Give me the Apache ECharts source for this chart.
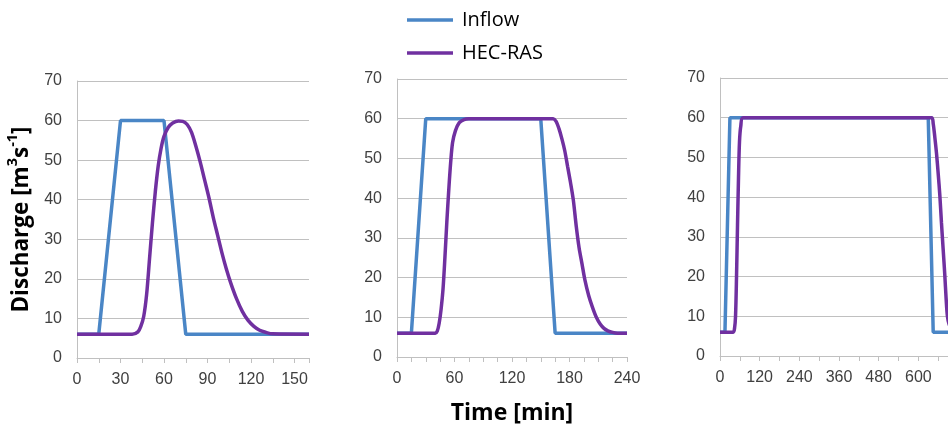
<!DOCTYPE html>
<html>
<head>
<meta charset="utf-8">
<script src="https://cdn.jsdelivr.net/npm/echarts@6/dist/echarts.min.js"></script>
<style>html,body{margin:0;padding:0;background:#fff}#c{width:948px;height:427px}</style>
</head>
<body>
<div id="c"></div>
<script>
// ---- Data (time in minutes, discharge in m3/s) ----
const seriesNames = ['Inflow', 'HEC-RAS'];
const yTicks = [0, 10, 20, 30, 40, 50, 60, 70];
const xMax = [160, 240, 720];
const xLabelStep = [30, 60, 120];
const xTickStep = [15, 15, 60];

const inflow1 = [[0,6],[15,6],[30,60],[60,60],[75,6],[160,6]];
const hecras1 = [[0,6],[38,6],[42,6.6],[44,8],[46,10.5],[48,16],[50,25],[52,34],[54,42],[56,48.5],[58,53],[60,56],[63,58.3],[66,59.4],[70,59.9],[73,59.8],[76,59],[79,57],[82,53.5],[85,49.5],[88,45],[91,40.5],[94,35.5],[97,31],[100,26.5],[103,22.5],[106,19],[110,15],[114,11.8],[118,9.5],[122,8],[126,7],[130,6.5],[135,6.1],[160,6]];

const inflow2 = [[0,6],[15,6],[30,60],[150,60],[165,6],[240,6]];
const hecras2 = [[0,6],[40,6],[42,6.5],[44,8.5],[46,12],[48,17],[50,25],[52,34],[54,42],[56,49],[58,54],[61,57],[65,59],[70,59.8],[75,60],[163,60],[166,59.3],[169,57.5],[172,55],[175,52],[178,48],[181,44],[184,39.5],[187,33],[190,27.5],[193,23.5],[196,19.5],[200,15.5],[204,12.5],[208,10],[212,8.3],[216,7.2],[220,6.6],[225,6.2],[230,6],[240,6]];

const inflow3 = [[0,6],[15,6],[30,60],[630,60],[645,6],[720,6]];
const hecras3 = [[0,6],[40,6],[44,7],[47,10],[50,20],[53,33],[56,45],[59,54],[63,58],[70,60],[640,60],[645,58.5],[650,55],[655,51],[660,46],[665,40.5],[670,33.5],[675,27],[680,20.5],[684,14.5],[688,10],[693,8],[700,7],[710,6.3],[720,6]];

const inflowSets = [inflow1, inflow2, inflow3];
const hecrasSets = [hecras1, hecras2, hecras3];

// ---- Styles ----
const BLUE = '#4a86c6';
const PURPLE = '#7030a0';
const GRID = '#c0c0c0';
const TXT = '#404040';
const TITLE_FONT = 'Open Sans';

const grids = [
  {left: 77, top: 81, width: 232, height: 277, outerBoundsMode: 'none', containLabel: false},
  {left: 397, top: 79, width: 230, height: 278, outerBoundsMode: 'none', containLabel: false},
  {left: 720, top: 78, width: 238, height: 278, outerBoundsMode: 'none', containLabel: false}
];

const xAxes = grids.map((g, i) => ({
  type: 'value', gridIndex: i, min: 0, max: xMax[i], interval: xTickStep[i],
  axisLine: {show: true, lineStyle: {color: GRID, width: 1}},
  axisTick: {show: true, length: 5, lineStyle: {color: GRID}},
  splitLine: {show: false},
  axisLabel: {
    color: TXT, fontFamily: 'Liberation Sans, Arial', fontSize: 16, margin: 14,
    formatter: v => (v % xLabelStep[i] === 0 && (v < 700)) ? String(v) : ''
  },
  name: i === 1 ? 'Time [min]' : '',
  nameLocation: 'middle', nameGap: 45,
  nameTextStyle: {fontFamily: TITLE_FONT, fontWeight: 'bold', fontSize: 23, color: '#000'}
}));

const yAxes = grids.map((g, i) => ({
  type: 'value', gridIndex: i, min: yTicks[0], max: yTicks[yTicks.length - 1], interval: 10,
  axisLine: {show: true, lineStyle: {color: GRID, width: 1}},
  axisTick: {show: false},
  splitLine: {show: true, lineStyle: {color: GRID, width: 1}},
  axisLabel: {color: TXT, fontFamily: 'Liberation Sans, Arial', fontSize: 16, margin: 15},
  name: i === 0 ? '{t|Discharge [m}{s|3}{t|s}{s|-1}{t|]}' : '',
  nameLocation: 'middle', nameGap: 44, nameRotate: 90,
  nameTextStyle: {
    rich: {
      t: {fontFamily: TITLE_FONT, fontWeight: 'bold', fontSize: 22.5, color: '#000', lineHeight: 28, verticalAlign: 'bottom'},
      s: {fontFamily: TITLE_FONT, fontWeight: 'bold', fontSize: 14.5, color: '#000', lineHeight: 28, verticalAlign: 'top'}
    }
  }
}));

const series = [];
for (let i = 0; i < 3; i++) {
  series.push({
    name: seriesNames[0], type: 'line', xAxisIndex: i, yAxisIndex: i,
    data: inflowSets[i], showSymbol: false, smooth: false,
    lineStyle: {color: BLUE, width: 3.5}, itemStyle: {color: BLUE}, z: 2
  });
  series.push({
    name: seriesNames[1], type: 'line', xAxisIndex: i, yAxisIndex: i,
    data: hecrasSets[i], showSymbol: false, smooth: 0.3,
    lineStyle: {color: PURPLE, width: 3.5}, itemStyle: {color: PURPLE}, z: 3
  });
}

const chart = echarts.init(document.getElementById('c'), null, {renderer: 'canvas'});
chart.setOption({
  animation: false,
  backgroundColor: '#fff',
  legend: {
    data: seriesNames, orient: 'vertical', left: 402, top: 5,
    icon: 'rect', itemWidth: 46, itemHeight: 3.5, itemGap: 13,
    textStyle: {fontFamily: TITLE_FONT, fontSize: 20, color: '#000', padding: [0, 0, 0, 4]}
  },
  grid: grids,
  xAxis: xAxes,
  yAxis: yAxes,
  series: series
});
</script>
</body>
</html>
